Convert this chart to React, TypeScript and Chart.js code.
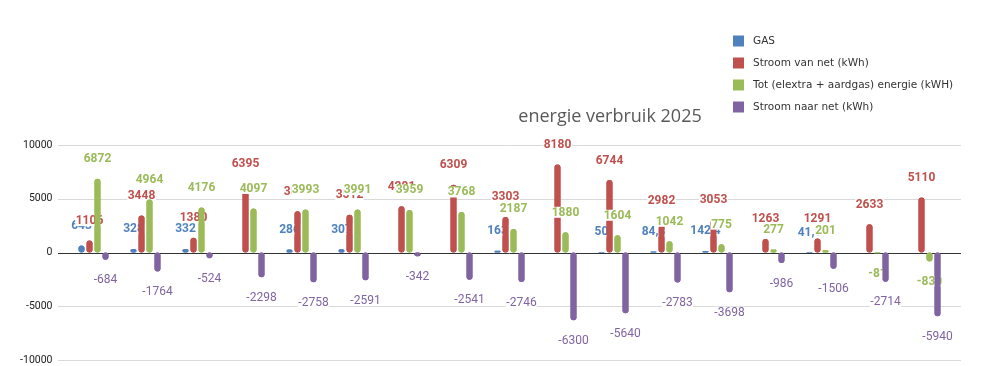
import React, { useEffect, useRef } from 'react';
import { Chart, registerables } from 'chart.js';

Chart.register(...registerables);

const categories = ['1', '2', '3', '4', '5', '6', '7', '8', '9', '10', '11', '12', '13', '14', '15', '16', '17'];
const seriesNames = ['GAS', 'Stroom van net (kWh)', 'Tot (elextra + aardgas) energie (kWH)', 'Stroom naar net (kWh)'];
const gas = [643, 328, 332, null, 286, 307, null, null, 163, null, 50, 84.3, 142.4, null, 41.6, null, null];
const stroomVanNet = [1106, 3448, 1380, 6395, 3826, 3512, 4291, 6309, 3303, 8180, 6744, 2982, 3053, 1263, 1291, 2633, 5110];
const totaal = [6872, 4964, 4176, 4097, 3993, 3991, 3959, 3768, 2187, 1880, 1604, 1042, 775, 277, 201, -81, -830];
const stroomNaarNet = [-684, -1764, -524, -2298, -2758, -2591, -342, -2541, -2746, -6300, -5640, -2783, -3698, -986, -1506, -2714, -5940];
const yTicks = [-10000, -5000, 0, 5000, 10000];
const titleText = 'energie verbruik 2025';

const barColors = ['#4f81bd', '#c0504d', '#9bbb59', '#8064a2'];
const labelColors = ['#4f81bd', '#c0504d', '#9bbb59', '#8064a2'];
const labelWeights = ['bold', 'bold', 'bold', 'normal'];

const fmt = (v: number) => String(v).replace('.', ',');

const gridPlugin = {
  id: 'customGrid',
  beforeDatasetsDraw(chart: any) {
    const ctx = chart.ctx;
    const ys = chart.scales.y;
    ctx.save();
    yTicks.forEach((t) => {
      const py = ys.getPixelForValue(t);
      const y = Math.round(py) + 0.5;
      ctx.beginPath();
      ctx.strokeStyle = t === 0 ? '#333333' : '#d9d9d9';
      ctx.lineWidth = 1;
      ctx.moveTo(58, y);
      ctx.lineTo(961, y);
      ctx.stroke();
      ctx.fillStyle = '#222222';
      ctx.font = '10.5px Roboto';
      ctx.textAlign = 'right';
      ctx.textBaseline = 'middle';
      ctx.fillText(String(t), 52.5, py);
    });
    ctx.restore();
  },
};

const labelPlugin = {
  id: 'valueLabels',
  afterDatasetsDraw(chart: any) {
    const ctx = chart.ctx;
    chart.data.datasets.forEach((ds: any, i: number) => {
      const meta = chart.getDatasetMeta(i);
      ctx.save();
      meta.data.forEach((el: any, j: number) => {
        if (ds.data[j] == null) return;
        el.draw(ctx, chart.chartArea);
      });
      ctx.restore();
      ctx.save();
      ctx.font = `${labelWeights[i]} 12px Roboto`;
      ctx.textAlign = 'center';
      ctx.textBaseline = 'middle';
      meta.data.forEach((el: any, j: number) => {
        const v = ds.data[j];
        if (v == null) return;
        const txt = fmt(v);
        const x = el.x;
        const y = v >= 0 ? el.y - 20 : el.y + 20;
        const w = ctx.measureText(txt).width;
        ctx.fillStyle = '#ffffff';
        ctx.fillRect(x - w / 2 - 0.5, y - 5.5, w + 1, 11);
        ctx.fillStyle = labelColors[i];
        ctx.fillText(txt, x, y + 0.5);
      });
      ctx.restore();
    });
  },
};

const decorPlugin = {
  id: 'decor',
  afterDraw(chart: any) {
    const ctx = chart.ctx;
    ctx.save();
    ctx.font = '18px "Open Sans"';
    ctx.fillStyle = '#595959';
    ctx.textAlign = 'center';
    ctx.textBaseline = 'middle';
    ctx.fillText(titleText, 610, 117);
    const rows = [41, 63, 85, 107];
    ctx.font = '10.5px "DejaVu Sans"';
    ctx.textAlign = 'left';
    seriesNames.forEach((name, i) => {
      ctx.fillStyle = barColors[i];
      ctx.fillRect(733, rows[i] - 5.5, 11, 11);
      ctx.fillStyle = '#333333';
      ctx.fillText(name, 753, rows[i] + 0.5);
    });
    ctx.restore();
  },
};

export default function App() {
  const ref = useRef<HTMLCanvasElement | null>(null);
  useEffect(() => {
    document.body.style.margin = '0';
    if (!ref.current) return;
    const seriesData = [gas, stroomVanNet, totaal, stroomNaarNet];
    const chart = new Chart(ref.current, {
      type: 'bar',
      data: {
        labels: categories,
        datasets: seriesData.map((d, i) => ({
          label: seriesNames[i],
          data: d,
          backgroundColor: barColors[i],
          borderRadius: 3,
          borderSkipped: false,
          categoryPercentage: 32 / 52,
          barPercentage: 0.75,
        })),
      },
      options: {
        responsive: false,
        animation: false,
        devicePixelRatio: 1,
        layout: { padding: { top: 145, bottom: 6, left: 0, right: 34.5 } },
        plugins: {
          legend: { display: false },
          title: { display: false },
          tooltip: { enabled: false },
        },
        scales: {
          x: {
            display: false,
          },
          y: {
            min: -10000,
            max: 10000,
            grid: { display: false, drawTicks: false },
            border: { display: false },
            ticks: { display: false },
            afterFit: (s: any) => { s.width = 67.5; },
          },
        },
      },
      plugins: [gridPlugin, labelPlugin, decorPlugin],
    } as any);
    return () => chart.destroy();
  }, []);
  return (
    <div style={{ width: 986, height: 366 }}>
      <canvas ref={ref} width={986} height={366} style={{ display: 'block' }} />
    </div>
  );
}
